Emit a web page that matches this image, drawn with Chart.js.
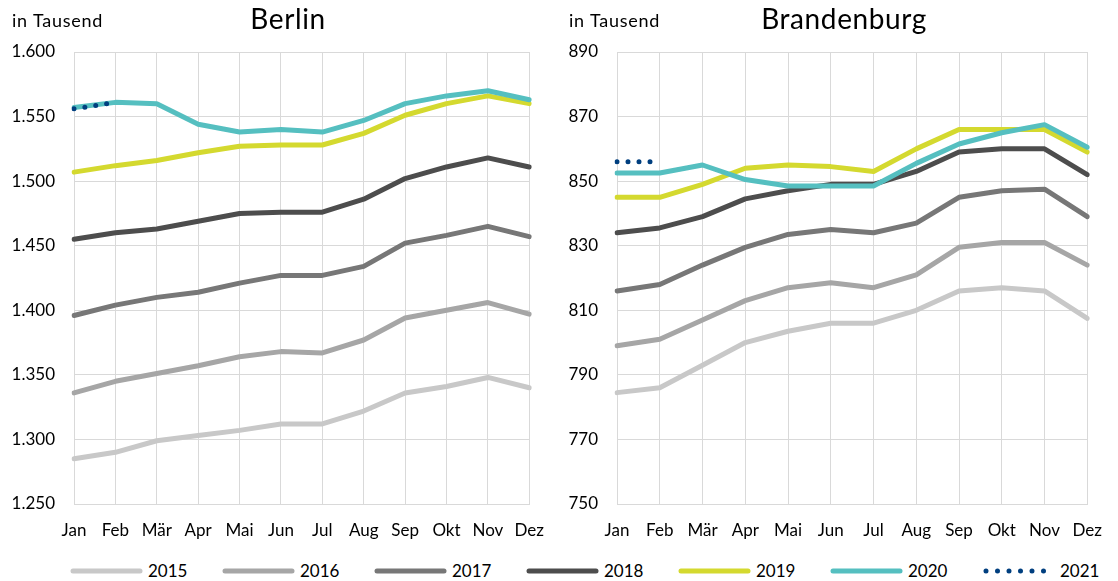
<!DOCTYPE html>
<html>
<head>
<meta charset="utf-8">
<script src="https://cdn.jsdelivr.net/npm/chart.js@4/dist/chart.umd.min.js"></script>
<style>
	body { margin: 0; background: #fff; font-family: Lato, "Noto Sans", sans-serif; }
	#buehne { position: relative; width: 1118px; height: 581px; overflow: hidden; }
	#berlin_canvas { position: absolute; left: 0; top: 0; }
	#brandenburg_canvas { position: absolute; left: 560px; top: 0; }
	#legende { position: absolute; left: 0; top: 558px; width: 1118px; height: 25px; }
	.eintrag { position: absolute; top: 0; height: 25px; display: flex; align-items: center; font-size: 17px; color: #000; }
	.eintrag canvas { margin-right: 4px; }
</style>
</head>
<body>
<div id="buehne">
	<canvas id="berlin_canvas" width="560" height="548"></canvas>
	<canvas id="brandenburg_canvas" width="558" height="548"></canvas>
	<div id="legende"></div>
</div>
<script>
// Monate (x-Achse)
var monate = ["Jan", "Feb", "Mär", "Apr", "Mai", "Jun", "Jul", "Aug", "Sep", "Okt", "Nov", "Dez"];
var jahre = ["2015", "2016", "2017", "2018", "2019", "2020", "2021"];

// Berlin, in Tausend
var berlin2015 = [1285, 1290, 1299, 1303, 1307, 1312, 1312, 1322, 1336, 1341, 1348, 1340];
var berlin2016 = [1336, 1345, 1351, 1357, 1364, 1368, 1367, 1377, 1394, 1400, 1406, 1397];
var berlin2017 = [1396, 1404, 1410, 1414, 1421, 1427, 1427, 1434, 1452, 1458, 1465, 1457];
var berlin2018 = [1455, 1460, 1463, 1469, 1475, 1476, 1476, 1486, 1502, 1511, 1518, 1511];
var berlin2019 = [1507, 1512, 1516, 1522, 1527, 1528, 1528, 1537, 1551, 1560, 1566, 1560];
var berlin2020 = [1557, 1561, 1560, 1544, 1538, 1540, 1538, 1547, 1560, 1566, 1570, 1563];
var berlin2021 = [1556, 1561];

// Brandenburg, in Tausend
var brandenburg2015 = [784.5, 786, 793, 800, 803.5, 806, 806, 810, 816, 817, 816, 807.5];
var brandenburg2016 = [799, 801, 807, 813, 817, 818.5, 817, 821, 829.5, 831, 831, 824];
var brandenburg2017 = [816, 818, 824, 829.5, 833.5, 835, 834, 837, 845, 847, 847.5, 839];
var brandenburg2018 = [834, 835.5, 839, 844.5, 847, 849, 849, 853, 859, 860, 860, 852];
var brandenburg2019 = [845, 845, 849, 854, 855, 854.5, 853, 860, 866, 866, 866, 859];
var brandenburg2020 = [852.5, 852.5, 855, 850.5, 848.5, 848.5, 848.5, 855.5, 861.5, 865, 867.5, 860.5];
var brandenburg2021 = [856, 856];

// Achsen
var berlinMin = 1250, berlinMax = 1600, berlinSchritt = 50;
var brandenburgMin = 750, brandenburgMax = 890, brandenburgSchritt = 20;

var farben = ["#c8c8c8", "#a6a6a6", "#777777", "#4d4d4d", "#d4d92f", "#55bfc0", "#003f7f"];
var schrift = "Lato, 'Noto Sans', sans-serif";

function datensaetze(werte) {
	var saetze = [];
	for (var i = 0; i < jahre.length; i++) {
		var gepunktet = jahre[i] == "2021";
		saetze.push({
			label: jahre[i],
			data: werte[i],
			borderColor: farben[i],
			backgroundColor: farben[i],
			borderWidth: 5,
			borderCapStyle: "round",
			borderJoinStyle: "round",
			borderDash: gepunktet ? [0, 11] : [],
			pointRadius: 0,
			tension: 0,
			order: jahre.length - i, // spätere Jahre oben
		});
	}
	return saetze;
}

// Titel und "in Tausend" selbst zeichnen
var kopfPlugin = {
	id: "kopf",
	afterDraw: function (chart, args, opts) {
		var ctx = chart.ctx;
		ctx.save();
		ctx.fillStyle = "#000";
		ctx.textBaseline = "middle";
		ctx.font = "18px " + schrift;
		ctx.letterSpacing = "0.7px";
		ctx.textAlign = "left";
		ctx.fillText(opts.einheit, opts.einheitX, 21);
		ctx.font = "28px " + schrift;
		ctx.letterSpacing = "0.6px";
		ctx.textAlign = "center";
		ctx.fillText(opts.titel, opts.titelX, 20);
		ctx.restore();
	},
};

function diagramm(id, werte, min, max, schritt, achsenBreite, rechts, titel, titelX, einheitX) {
	return new Chart(document.getElementById(id), {
		type: "line",
		data: { labels: monate, datasets: datensaetze(werte) },
		options: {
			responsive: false,
			animation: false,
			locale: "de-DE",
			layout: { padding: { top: 52, right: rechts, bottom: 0, left: 0 } },
			plugins: {
				legend: { display: false },
				tooltip: { enabled: false },
				kopf: { titel: titel, titelX: titelX, einheit: "in Tausend", einheitX: einheitX },
			},
			scales: {
				x: {
					grid: { color: "#d9d9d9", lineWidth: 1, drawTicks: false },
					border: { color: "#d9d9d9" },
					ticks: { color: "#000", font: { family: schrift, size: 17 }, padding: 16, maxRotation: 0, autoSkip: false },
					afterFit: function (s) { s.height = 44; },
				},
				y: {
					min: min,
					max: max,
					grid: { color: "#d9d9d9", lineWidth: 1, drawTicks: false },
					border: { color: "#d9d9d9" },
					ticks: { stepSize: schritt, color: "#000", font: { family: schrift, size: 17 }, padding: 19 },
					afterFit: function (s) { s.width = achsenBreite; },
				},
			},
		},
		plugins: [kopfPlugin],
	});
}

diagramm("berlin_canvas",
	[berlin2015, berlin2016, berlin2017, berlin2018, berlin2019, berlin2020, berlin2021],
	berlinMin, berlinMax, berlinSchritt, 74, 19, "Berlin", 288, 12);

diagramm("brandenburg_canvas",
	[brandenburg2015, brandenburg2016, brandenburg2017, brandenburg2018, brandenburg2019, brandenburg2020, brandenburg2021],
	brandenburgMin, brandenburgMax, brandenburgSchritt, 57, 21, "Brandenburg", 284, 9);

// Legende unten
var legende = document.getElementById("legende");
for (var i = 0; i < jahre.length; i++) {
	var eintrag = document.createElement("div");
	eintrag.className = "eintrag";
	eintrag.style.left = (68 + i * 152) + "px";
	var c = document.createElement("canvas");
	c.width = 76;
	c.height = 10;
	var g = c.getContext("2d");
	g.strokeStyle = farben[i];
	g.lineWidth = 5;
	g.lineCap = "round";
	if (jahre[i] == "2021") g.setLineDash([0, 11.5]);
	g.beginPath();
	g.moveTo(jahre[i] == "2021" ? 6 : 5, 5);
	g.lineTo(72, 5);
	g.stroke();
	eintrag.appendChild(c);
	var t = document.createElement("span");
	t.textContent = jahre[i];
	eintrag.appendChild(t);
	legende.appendChild(eintrag);
}
</script>
</body>
</html>
